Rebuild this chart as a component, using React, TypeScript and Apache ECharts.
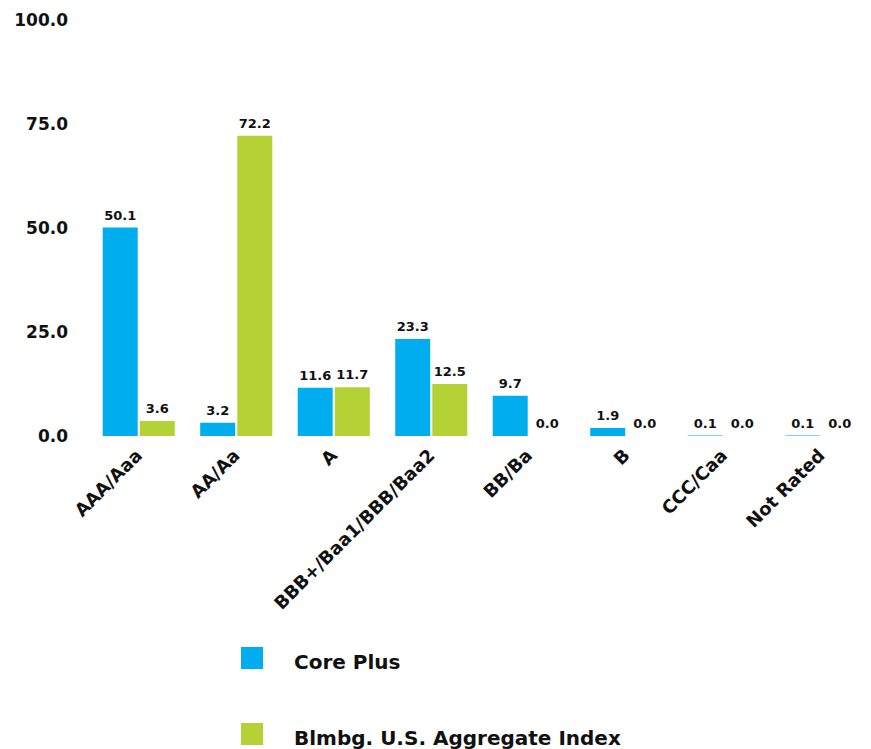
import React, { useEffect, useRef } from "react";
import * as echarts from "echarts";

// Credit quality distribution (% of portfolio)
const categories = [
  "AAA/Aaa",
  "AA/Aa",
  "A",
  "BBB+/Baa1/BBB/Baa2",
  "BB/Ba",
  "B",
  "CCC/Caa",
  "Not Rated",
];
const corePlus = [50.1, 3.2, 11.6, 23.3, 9.7, 1.9, 0.1, 0.1];
const aggregateIndex = [3.6, 72.2, 11.7, 12.5, 0.0, 0.0, 0.0, 0.0];
const seriesNames = ["Core Plus", "Blmbg. U.S. Aggregate Index"];
const colors = ["#00AEEF", "#B4D235"];

const FONT = "'DejaVu Sans', 'Noto Sans', sans-serif";
const INK = "#111";

export default function App() {
  const ref = useRef<HTMLDivElement>(null);

  useEffect(() => {
    if (!ref.current) return;
    const chart = echarts.init(ref.current, undefined, { renderer: "svg" });
    const labelStyle = {
      show: true,
      position: "top" as const,
      distance: 6,
      color: INK,
      fontFamily: FONT,
      fontWeight: "bold" as const,
      fontSize: 13,
      formatter: (p: any) => Number(p.value).toFixed(1),
    };
    const legendBase = {
      orient: "vertical" as const,
      left: 241,
      padding: 0,
      itemWidth: 22,
      itemHeight: 22,
      icon: "rect",
      formatter: (name: string) => `{n|${name}}`,
      textStyle: {
        color: INK,
        fontFamily: FONT,
        fontWeight: "bold" as const,
        fontSize: 20,
        rich: {
          n: {
            color: INK,
            fontFamily: FONT,
            fontWeight: "bold" as const,
            fontSize: 20,
            padding: [8, 0, 0, 26],
          },
        },
      },
    };
    chart.setOption({
      animation: false,
      backgroundColor: "#fff",
      textStyle: { fontFamily: FONT },
      grid: { left: 90, right: 1, top: 20, bottom: 313, containLabel: false },
      legend: [
        { ...legendBase, top: 647, data: [seriesNames[0]] },
        { ...legendBase, top: 723, data: [seriesNames[1]] },
      ],
      xAxis: {
        type: "category",
        data: categories,
        axisLine: { show: false },
        axisTick: { show: false },
        axisLabel: {
          rotate: 45,
          interval: 0,
          margin: 16,
          color: INK,
          fontFamily: FONT,
          fontWeight: "bold",
          fontSize: 18,
        },
      },
      yAxis: {
        type: "value",
        min: 0,
        max: 100,
        interval: 25,
        splitLine: { show: false },
        axisLine: { show: false },
        axisTick: { show: false },
        axisLabel: {
          margin: 22,
          color: INK,
          fontFamily: FONT,
          fontWeight: "bold",
          fontSize: 17,
          formatter: (v: number) => v.toFixed(1),
        },
      },
      series: [
        {
          name: seriesNames[0],
          type: "bar",
          data: corePlus,
          barWidth: 35,
          barGap: "6%",
          itemStyle: { color: colors[0] },
          label: labelStyle,
        },
        {
          name: seriesNames[1],
          type: "bar",
          data: aggregateIndex,
          barWidth: 35,
          itemStyle: { color: colors[1] },
          label: labelStyle,
        },
      ],
    });
    return () => chart.dispose();
  }, []);

  return (
    <div
      ref={ref}
      style={{ position: "fixed", left: 0, top: 0, width: 871, height: 749, background: "#fff" }}
    />
  );
}
